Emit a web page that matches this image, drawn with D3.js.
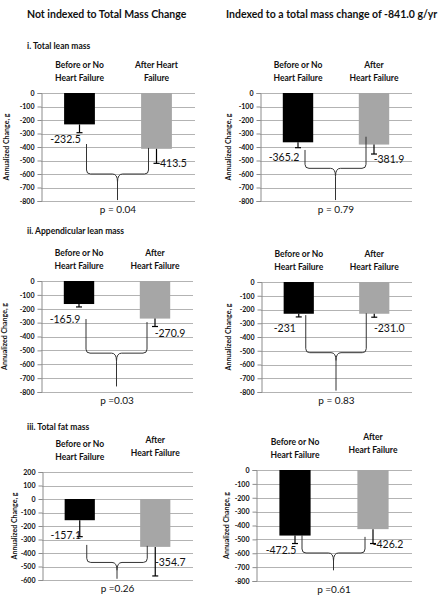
<!DOCTYPE html>
<html>
<head>
<meta charset="utf-8">
<script src="https://cdn.jsdelivr.net/npm/d3@7"></script>
<style>
  html, body { margin: 0; padding: 0; background: #fff; }
  svg { display: block; }
  text { font-family: Lato, "Liberation Sans", sans-serif; fill: #111; }
</style>
</head>
<body>
<svg id="chart" width="448" height="603"></svg>
<script>
// ---------- DATA ----------
const columnTitles = ["Not indexed to Total Mass Change", "Indexed to a total mass change of -841.0 g/yr"];
const sectionTitles = ["i. Total lean mass", "ii. Appendicular lean mass", "iii. Total fat mass"];
const categories = ["Before or No Heart Failure", "After Heart Failure"];
const categoryLines = [
  [["Before or No", "Heart Failure"], ["After Heart", "Failure"]],
  [["Before or No", "Heart Failure"], ["After", "Heart Failure"]],
  [["Before or No", "Heart Failure"], ["After", "Heart Failure"]],
  [["Before or No", "Heart Failure"], ["After", "Heart Failure"]],
  [["Before or No", "Heart Failure"], ["After", "Heart Failure"]],
  [["Before or No", "Heart Failure"], ["After", "Heart Failure"]]
];
const barValues = [
  [-232.5, -413.5],
  [-365.2, -381.9],
  [-165.9, -270.9],
  [-231.0, -231.0],
  [-157.1, -354.7],
  [-472.5, -426.2]
];
const barLabels = [
  ["-232.5", "-413.5"],
  ["-365.2", "-381.9"],
  ["-165.9", "-270.9"],
  ["-231", "-231.0"],
  ["-157.1", "-354.7"],
  ["-472.5", "-426.2"]
];
// lower end of each error bar (annualized change, g)
const errorLows = [
  [-294, -521],
  [-405, -452],
  [-187, -328],
  [-254, -256],
  [-279, -570],
  [-530, -530]
];
const yDomains = [[-800, 0], [-800, 0], [-800, 0], [-800, 0], [-600, 200], [-800, 0]];
const yTickStep = 100;
const yAxisTitle = "Annualized Change, g";
const pLabels = ["p = 0.04", "p = 0.79", "p =0.03", "p = 0.83", "p =0.26", "p =0.61"];
// comparison brace, in data units: [left arm top, right arm top, brace level, tip]
const braces = [
  [-378, -407, -600, -793],
  [-422, -324, -558, -793],
  [-274, -296, -520, -760],
  [-241, -227, -514, -790],
  [-340, -347, -470, -591],
  [-470, -482, -598, -723]
];
const barColors = ["#000000", "#a6a6a6"];

// ---------- LAYOUT ----------
const layout = [
  { x0: 41,  x1: 195, yTop: 93,  yBot: 201, titleDx: -34, afterDy: 0 },
  { x0: 260, x1: 412, yTop: 93,  yBot: 201, titleDx: -31, afterDy: 0 },
  { x0: 41,  x1: 193, yTop: 281, yBot: 392, titleDx: -36, afterDy: 0 },
  { x0: 261, x1: 412, yTop: 282, yBot: 392, titleDx: -32, afterDy: 0 },
  { x0: 42,  x1: 193, yTop: 472, yBot: 580, titleDx: -27, afterDy: -4 },
  { x0: 256, x1: 412, yTop: 470, yBot: 581, titleDx: -29, afterDy: -5 }
];

const svg = d3.select("#chart");

// Column headers
svg.selectAll("text.colTitle").data(columnTitles).join("text")
  .attr("class", "colTitle")
  .attr("x", (d, i) => i === 0 ? 27 : 226)
  .attr("y", 14).attr("dy", "0.35em")
  .attr("font-size", 10.5).attr("font-weight", "bold")
  .text(d => d);

// Section titles
const sectionY = [46, 231, 427];
svg.selectAll("text.secTitle").data(sectionTitles).join("text")
  .attr("class", "secTitle")
  .attr("x", 27)
  .attr("y", (d, i) => sectionY[i]).attr("dy", "0.35em")
  .attr("font-size", 8.5).attr("font-weight", "bold")
  .text(d => d);

layout.forEach((L, p) => {
  const g = svg.append("g");
  const y = d3.scaleLinear().domain(yDomains[p]).range([L.yBot, L.yTop]);
  const x = d3.scaleBand().domain(categories).range([L.x0, L.x1])
    .paddingInner(0.6).paddingOuter(0.3);
  const ticks = d3.range(yDomains[p][0], yDomains[p][1] + 1, yTickStep);

  // gridlines
  g.selectAll("line.grid").data(ticks).join("line")
    .attr("x1", L.x0).attr("x2", L.x1)
    .attr("y1", d => Math.round(y(d)) + 0.5).attr("y2", d => Math.round(y(d)) + 0.5)
    .attr("stroke", "#b3b3b3").attr("stroke-width", 1);

  // y axis
  const axis = d3.axisLeft(y).tickValues(ticks).tickSize(4).tickPadding(3)
    .tickFormat(d3.format("d"));
  const ag = g.append("g").attr("transform", `translate(${L.x0 + 0.5},0)`).call(axis);
  ag.select(".domain").attr("stroke", "#8c8c8c");
  ag.selectAll(".tick line").attr("stroke", "#8c8c8c");
  ag.selectAll(".tick text")
    .attr("font-family", "Lato, 'Liberation Sans', sans-serif")
    .attr("font-size", 7).attr("font-weight", "bold").attr("fill", "#222")
    .text(d => d3.format("d")(d).replace("−", "-"));

  // y axis title
  const midY = (L.yTop + L.yBot) / 2;
  g.append("text")
    .attr("transform", `translate(${L.x0 + L.titleDx},${midY}) rotate(-90)`)
    .attr("text-anchor", "middle").attr("dy", "0.35em")
    .attr("font-size", 7).attr("font-weight", "bold")
    .text(yAxisTitle);

  // category labels
  categories.forEach((c, i) => {
    const cx = x(c) + x.bandwidth() / 2;
    const lines = categoryLines[p][i];
    const off = i === 1 ? L.afterDy : 0;
    lines.forEach((ln, k) => {
      g.append("text")
        .attr("x", cx).attr("y", L.yTop - 28 + k * 13 + off).attr("dy", "0.35em")
        .attr("text-anchor", "middle")
        .attr("font-size", 8.5).attr("font-weight", "bold")
        .text(ln);
    });
  });

  // bars
  g.selectAll("rect.bar").data(barValues[p]).join("rect")
    .attr("x", (d, i) => x(categories[i]))
    .attr("width", x.bandwidth())
    .attr("y", d => y(Math.max(0, d)))
    .attr("height", d => Math.abs(y(d) - y(0)))
    .attr("fill", (d, i) => barColors[i]);

  // error bars (downward only)
  barValues[p].forEach((v, i) => {
    const cx = x(categories[i]) + x.bandwidth() / 2;
    const lo = errorLows[p][i];
    g.append("line")
      .attr("x1", cx).attr("x2", cx)
      .attr("y1", y(v)).attr("y2", y(lo))
      .attr("stroke", "#000").attr("stroke-width", 1.2);
    g.append("line")
      .attr("x1", cx - 3).attr("x2", cx + 3)
      .attr("y1", y(lo)).attr("y2", y(lo))
      .attr("stroke", "#000").attr("stroke-width", 1.2);
  });

  // data labels
  barValues[p].forEach((v, i) => {
    const cx = x(categories[i]) + x.bandwidth() / 2;
    g.append("text")
      .attr("x", cx + (i === 0 ? -14 : 15))
      .attr("y", y(v) + 15).attr("dy", "0.35em")
      .attr("text-anchor", "middle")
      .attr("font-size", 10.5)
      .text(barLabels[p][i]);
  });

  // comparison brace
  const [topL, topR, level, tip] = braces[p];
  const xl = x(categories[0]) + x.bandwidth() / 2 + 7;
  const xr = x(categories[1]) + x.bandwidth() / 2 - 8;
  const xc = (xl + xr) / 2;
  const yl = y(level), r = 4, r2 = 5;
  const path = d3.path();
  path.moveTo(xl, y(topL));
  path.lineTo(xl, yl - r);
  path.quadraticCurveTo(xl, yl, xl + r, yl);
  path.lineTo(xc - r2, yl);
  path.quadraticCurveTo(xc, yl, xc, yl + r2 * 1.6);
  path.lineTo(xc, y(tip));
  path.moveTo(xc, yl + r2 * 1.6);
  path.quadraticCurveTo(xc, yl, xc + r2, yl);
  path.lineTo(xr - r, yl);
  path.quadraticCurveTo(xr, yl, xr, yl - r);
  path.lineTo(xr, y(topR));
  g.append("path").attr("d", path.toString())
    .attr("fill", "none").attr("stroke", "#333").attr("stroke-width", 1);

  // p value
  g.append("text")
    .attr("x", (L.x0 + L.x1) / 2).attr("y", L.yBot + 8).attr("dy", "0.35em")
    .attr("text-anchor", "middle").attr("font-size", 10)
    .text(pLabels[p]);
});
</script>
</body>
</html>
